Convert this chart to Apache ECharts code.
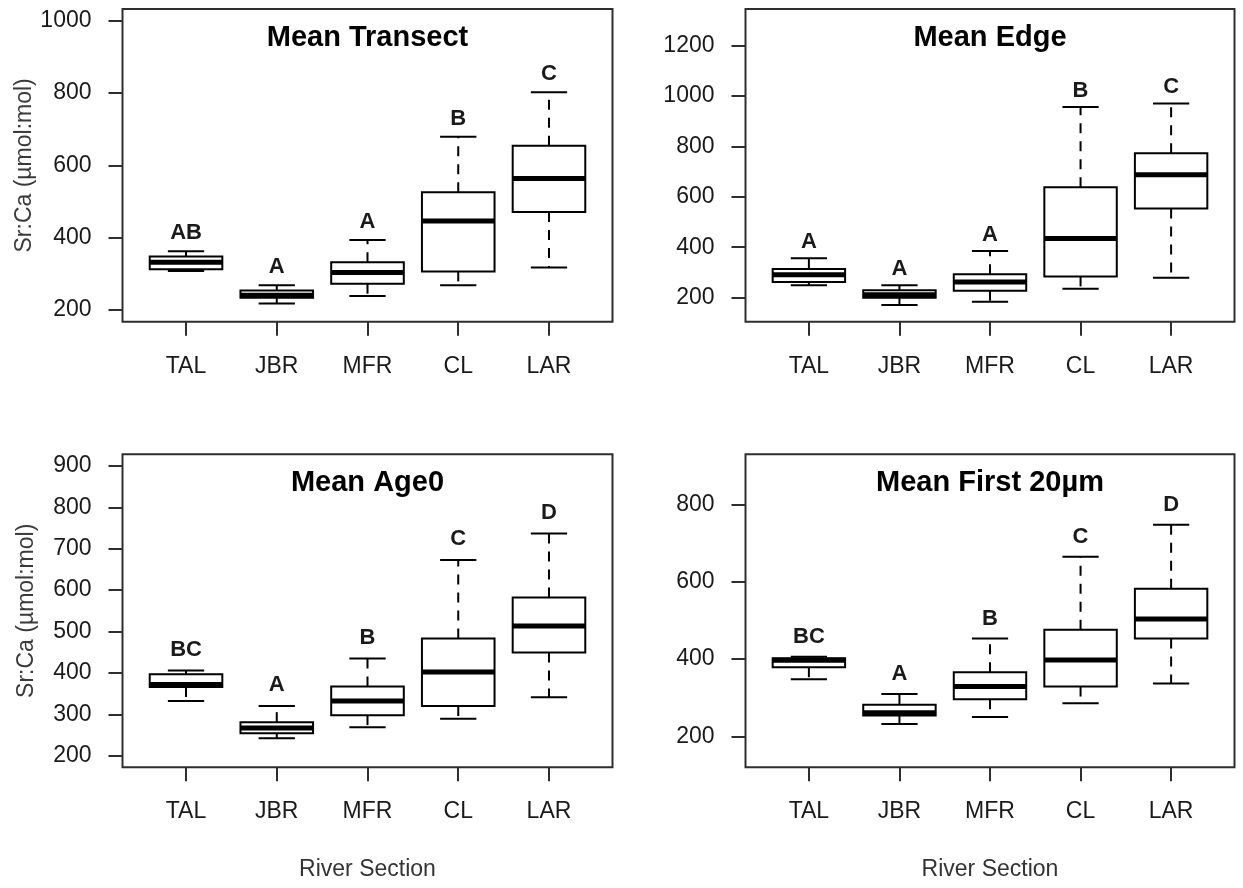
<!DOCTYPE html>
<html>
<head>
<meta charset="utf-8">
<script src="https://cdn.jsdelivr.net/npm/echarts@6/dist/echarts.min.js"></script>
<style>
  html, body { margin: 0; padding: 0; background: #ffffff; }
  #chart { width: 1243px; height: 888px; }
</style>
</head>
<body>
<div id="chart"></div>
<script>
// River sections along the x axis
const categories = ['TAL', 'JBR', 'MFR', 'CL', 'LAR'];

// Sr:Ca five-number summaries per section: [lower whisker, Q1, median, Q3, upper whisker]
const transectStats = [
  [308, 313, 332, 348, 363],
  [218, 234, 241, 254, 269],
  [239, 273, 304, 332, 394],
  [269, 307, 446, 526, 679],
  [318, 471, 564, 654, 802]
];
const edgeStats = [
  [249, 262, 290, 313, 356],
  [170, 199, 211, 229, 249],
  [183, 227, 262, 292, 385],
  [235, 284, 434, 638, 957],
  [279, 554, 688, 773, 971]
];
const age0Stats = [
  [332, 366, 372, 397, 406],
  [242, 254, 267, 281, 320],
  [269, 298, 332, 367, 435],
  [289, 320, 402, 483, 673],
  [341, 449, 513, 582, 737]
];
const first20Stats = [
  [348, 379, 397, 402, 406],
  [232, 254, 261, 282, 310],
  [250, 296, 329, 366, 453],
  [286, 329, 398, 476, 665],
  [337, 453, 504, 582, 748]
];

// Significance groupings printed above each box
const transectLetters = ['AB', 'A', 'A', 'B', 'C'];
const edgeLetters = ['A', 'A', 'A', 'B', 'C'];
const age0Letters = ['BC', 'A', 'B', 'C', 'D'];
const first20Letters = ['BC', 'A', 'B', 'C', 'D'];

// Tick labels on each value axis
const transectTicks = [200, 400, 600, 800, 1000];
const edgeTicks = [200, 400, 600, 800, 1000, 1200];
const age0Ticks = [200, 300, 400, 500, 600, 700, 800, 900];
const first20Ticks = [200, 400, 600, 800];

const panelTitles = ['Mean Transect', 'Mean Edge', 'Mean Age0', 'Mean First 20µm'];
const yTitle = 'Sr:Ca (µmol:mol)';
const xTitle = 'River Section';

const FONT = "'Liberation Sans', Arial, Helvetica, sans-serif";
const INK = '#000000';
const FRAME = '#2e2e2e';
const TEXT = '#1a1a1a';

const panels = [
  { title: panelTitles[0], stats: transectStats, letters: transectLetters, ylim: [200, 1000], ticks: transectTicks, gap: 50,
    grid: { left: 122.5, top: 9, width: 490, height: 312.7 }, yName: true, xName: false },
  { title: panelTitles[1], stats: edgeStats, letters: edgeLetters, ylim: [150, 1300], ticks: edgeTicks, gap: 65,
    grid: { left: 745.5, top: 9, width: 489, height: 312.7 }, yName: false, xName: false },
  { title: panelTitles[2], stats: age0Stats, letters: age0Letters, ylim: [200, 900], ticks: age0Ticks, gap: 50,
    grid: { left: 122.5, top: 454.3, width: 490, height: 313 }, yName: true, xName: true },
  { title: panelTitles[3], stats: first20Stats, letters: first20Letters, ylim: [150, 900], ticks: first20Ticks, gap: 52,
    grid: { left: 745.5, top: 454.3, width: 489, height: 313 }, yName: false, xName: true }
];

// R-style axis range: the limits padded by 4% on each side
function padded(lim) {
  const d = (lim[1] - lim[0]) * 0.04;
  return [lim[0] - d, lim[1] + d];
}

// Draws one box-and-whisker glyph: dashed whiskers, caps, box, heavy median, group letter
function makeRenderer(letters, gap) {
  return function (params, api) {
    const x = api.value(0);
    const lo = api.value(1), q1 = api.value(2), md = api.value(3), q3 = api.value(4), hi = api.value(5);
    const at = (v) => api.coord([x, v]);
    const boxW = api.size([0.8, 0])[0];
    const capW = api.size([0.4, 0])[0];
    const cx = at(md)[0];
    const yHi = at(hi)[1], yQ3 = at(q3)[1], yMd = at(md)[1], yQ1 = at(q1)[1], yLo = at(lo)[1];
    const seg = (x1, y1, x2, y2, extra) => ({
      type: 'line',
      shape: { x1: x1, y1: y1, x2: x2, y2: y2 },
      style: Object.assign({ stroke: INK, lineWidth: 2, fill: null }, extra || {})
    });
    return {
      type: 'group',
      children: [
        seg(cx, yQ3, cx, yHi, { lineDash: [10, 8] }),
        seg(cx, yQ1, cx, yLo, { lineDash: [10, 8] }),
        seg(cx - capW / 2, yHi, cx + capW / 2, yHi),
        seg(cx - capW / 2, yLo, cx + capW / 2, yLo),
        {
          type: 'rect',
          shape: { x: cx - boxW / 2, y: yQ3, width: boxW, height: yQ1 - yQ3 },
          style: { fill: '#ffffff', stroke: INK, lineWidth: 2 }
        },
        seg(cx - boxW / 2, yMd, cx + boxW / 2, yMd, { lineWidth: 5 }),
        {
          type: 'text',
          x: cx,
          y: at(hi + gap)[1],
          style: {
            text: letters[params.dataIndex],
            fill: TEXT,
            font: 'bold 22px ' + FONT,
            align: 'center',
            verticalAlign: 'middle'
          }
        }
      ]
    };
  };
}

const option = {
  backgroundColor: '#ffffff',
  animation: false,
  title: panels.map((p) => ({
    text: p.title,
    left: p.grid.left + p.grid.width / 2,
    top: p.grid.top + 14,
    textAlign: 'center',
    padding: 0,
    textStyle: { fontFamily: FONT, fontWeight: 'bold', fontSize: 29, color: '#000000' }
  })),
  grid: panels.map((p) => Object.assign({
    show: true,
    borderColor: FRAME,
    borderWidth: 2,
    backgroundColor: 'transparent'
  }, p.grid)),
  xAxis: panels.map((p, i) => ({
    type: 'value',
    gridIndex: i,
    min: 0.3,
    max: 5.7,
    axisLine: { show: false },
    splitLine: { show: false },
    axisTick: {
      show: true,
      length: 14,
      customValues: [1, 2, 3, 4, 5],
      lineStyle: { color: FRAME, width: 2 }
    },
    axisLabel: {
      customValues: [1, 2, 3, 4, 5],
      formatter: (v) => categories[Math.round(v) - 1],
      margin: 33,
      fontFamily: FONT,
      fontSize: 23,
      color: TEXT
    },
    name: p.xName ? xTitle : '',
    nameLocation: 'middle',
    nameGap: 91,
    nameTextStyle: { fontFamily: FONT, fontSize: 23, color: '#333333' }
  })),
  yAxis: panels.map((p, i) => {
    const r = padded(p.ylim);
    return {
      type: 'value',
      gridIndex: i,
      min: r[0],
      max: r[1],
      axisLine: { show: false },
      splitLine: { show: false },
      axisTick: {
        show: true,
        length: 14,
        customValues: p.ticks,
        lineStyle: { color: FRAME, width: 2 }
      },
      axisLabel: {
        customValues: p.ticks,
        formatter: (v) => String(Math.round(v)),
        margin: 31,
        fontFamily: FONT,
        fontSize: 23,
        color: TEXT
      },
      name: p.yName ? yTitle : '',
      nameLocation: 'middle',
      nameRotate: 90,
      nameGap: 84,
      nameTextStyle: { fontFamily: FONT, fontSize: 23, color: '#3a3a3a' }
    };
  }),
  series: panels.map((p, i) => ({
    type: 'custom',
    xAxisIndex: i,
    yAxisIndex: i,
    clip: false,
    renderItem: makeRenderer(p.letters, p.gap),
    encode: { x: 0, y: [1, 2, 3, 4, 5] },
    data: p.stats.map((s, k) => [k + 1].concat(s))
  }))
};

const chart = echarts.init(document.getElementById('chart'), null, { renderer: 'canvas' });
chart.setOption(option);
</script>
</body>
</html>
